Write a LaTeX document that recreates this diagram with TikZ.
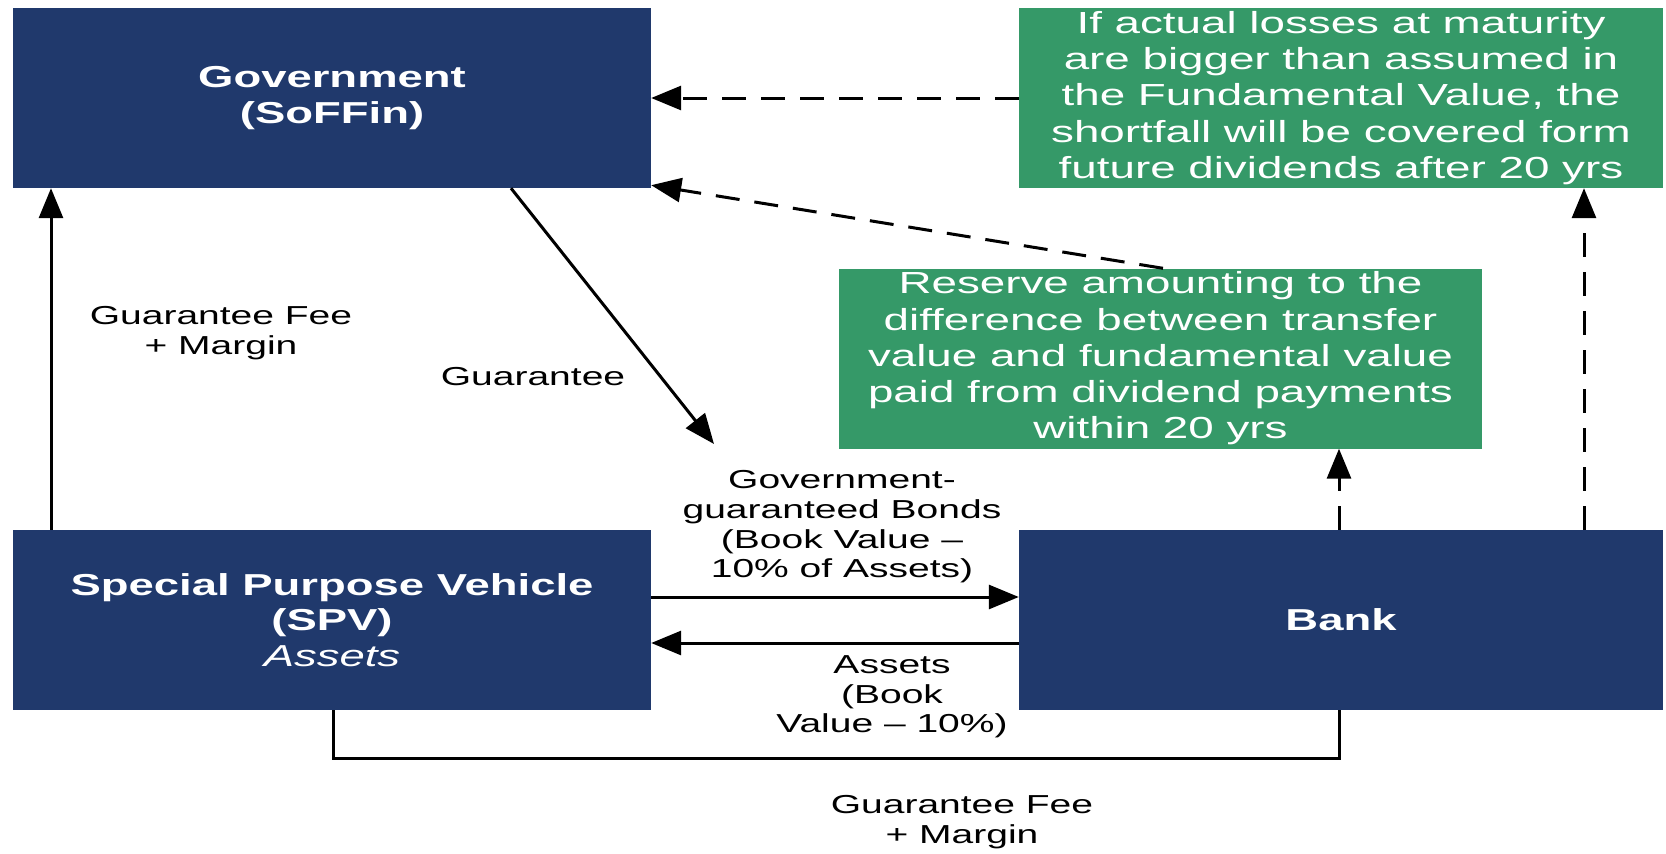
\documentclass[tikz,border=0pt]{standalone}
\usepackage{fontspec}
\setmainfont[FakeStretch=1.5]{Liberation Sans}
\usetikzlibrary{arrows.meta}
\definecolor{navy}{RGB}{32,57,108}
\definecolor{grn}{RGB}{53,153,104}
\begin{document}
\begin{tikzpicture}[x=1pt,y=-1pt,
  navybox/.style={fill=navy, text=white, font=\bfseries\fontsize{30.3}{35.5}\selectfont, align=center, inner sep=0pt, minimum width=638pt, minimum height=180pt},
  greenbox/.style={fill=grn, text=white, font=\fontsize{30.5}{36.3}\selectfont, align=center, inner sep=0pt, minimum width=644pt, minimum height=180pt},
  lbl/.style={font=\fontsize{26}{29.7}\selectfont, align=center, inner sep=0pt},
  arr/.style={line width=3pt, -{Triangle[length=30pt,width=24pt]}},
  darr/.style={arr, dash pattern=on 24pt off 15pt},
  plain/.style={line width=3pt},
]
\useasboundingbox (0,0) rectangle (1666,854);

\node[navybox] (gov) at (332,98) {Government\\(SoFFin)};
\node[greenbox] (g1) at (1341,98) {If actual losses at maturity\\are bigger than assumed in\\the Fundamental Value, the\\shortfall will be covered form\\future dividends after 20 yrs};
\node[greenbox, minimum width=643pt] (g2) at (1160.5,358.5) {Reserve amounting to the\\difference between transfer\\value and fundamental value\\paid from dividend payments\\within 20 yrs};
\node[navybox] (spv) at (332,620) {Special Purpose Vehicle\\(SPV)\\{\mdseries\itshape Assets}};
\node[navybox, minimum width=644pt] (bank) at (1341,620) {Bank};

\coordinate (xl) at (51,0);
\coordinate (xg) at (511,0);
\coordinate (gend) at (714,444);
\coordinate (xr) at (1163,0);
\coordinate (xb1) at (1339,0);
\coordinate (xb2) at (1584,0);
\coordinate (ytop) at (0,597);
\coordinate (ybot) at (0,643);
\coordinate (xs) at (333,0);
\coordinate (ylow) at (0,758);

% SPV -> Government
\draw[arr] (spv.north -| xl) -- (gov.south -| xl);
% Guarantee
\draw[arr] (gov.south -| xg) -- (gend);
% green boxes -> Government
\draw[darr] (g1.west) -- (gov.east);
\draw[darr] (g2.north -| xr) -- ([yshift=3pt]gov.south east);
% Bank -> green boxes
\draw[darr] (bank.north -| xb1) -- (g2.south -| xb1);
\draw[darr] (bank.north -| xb2) -- (g1.south -| xb2);
% SPV <-> Bank
\draw[arr] (spv.east |- ytop) -- (bank.west |- ytop);
\draw[arr] (bank.west |- ybot) -- (spv.east |- ybot);
% bottom fee line
\draw[plain] (spv.south -| xs) -- (xs |- ylow) -- (xb1 |- ylow) -- (bank.south -| xb1);

\node[lbl] (l1) at (221,333) {Guarantee Fee\\+ Margin};
\node[lbl] (l2) at (533,377) {Guarantee};
\node[lbl] (l3) at (842,527) {Government-\\guaranteed Bonds\\(Book Value --\\10\% of Assets)};
\node[lbl] (l4) at (892,697) {Assets\\(Book\\Value -- 10\%)};
\node[lbl] (l5) at (962,822) {Guarantee Fee\\+ Margin};
\end{tikzpicture}
\end{document}
